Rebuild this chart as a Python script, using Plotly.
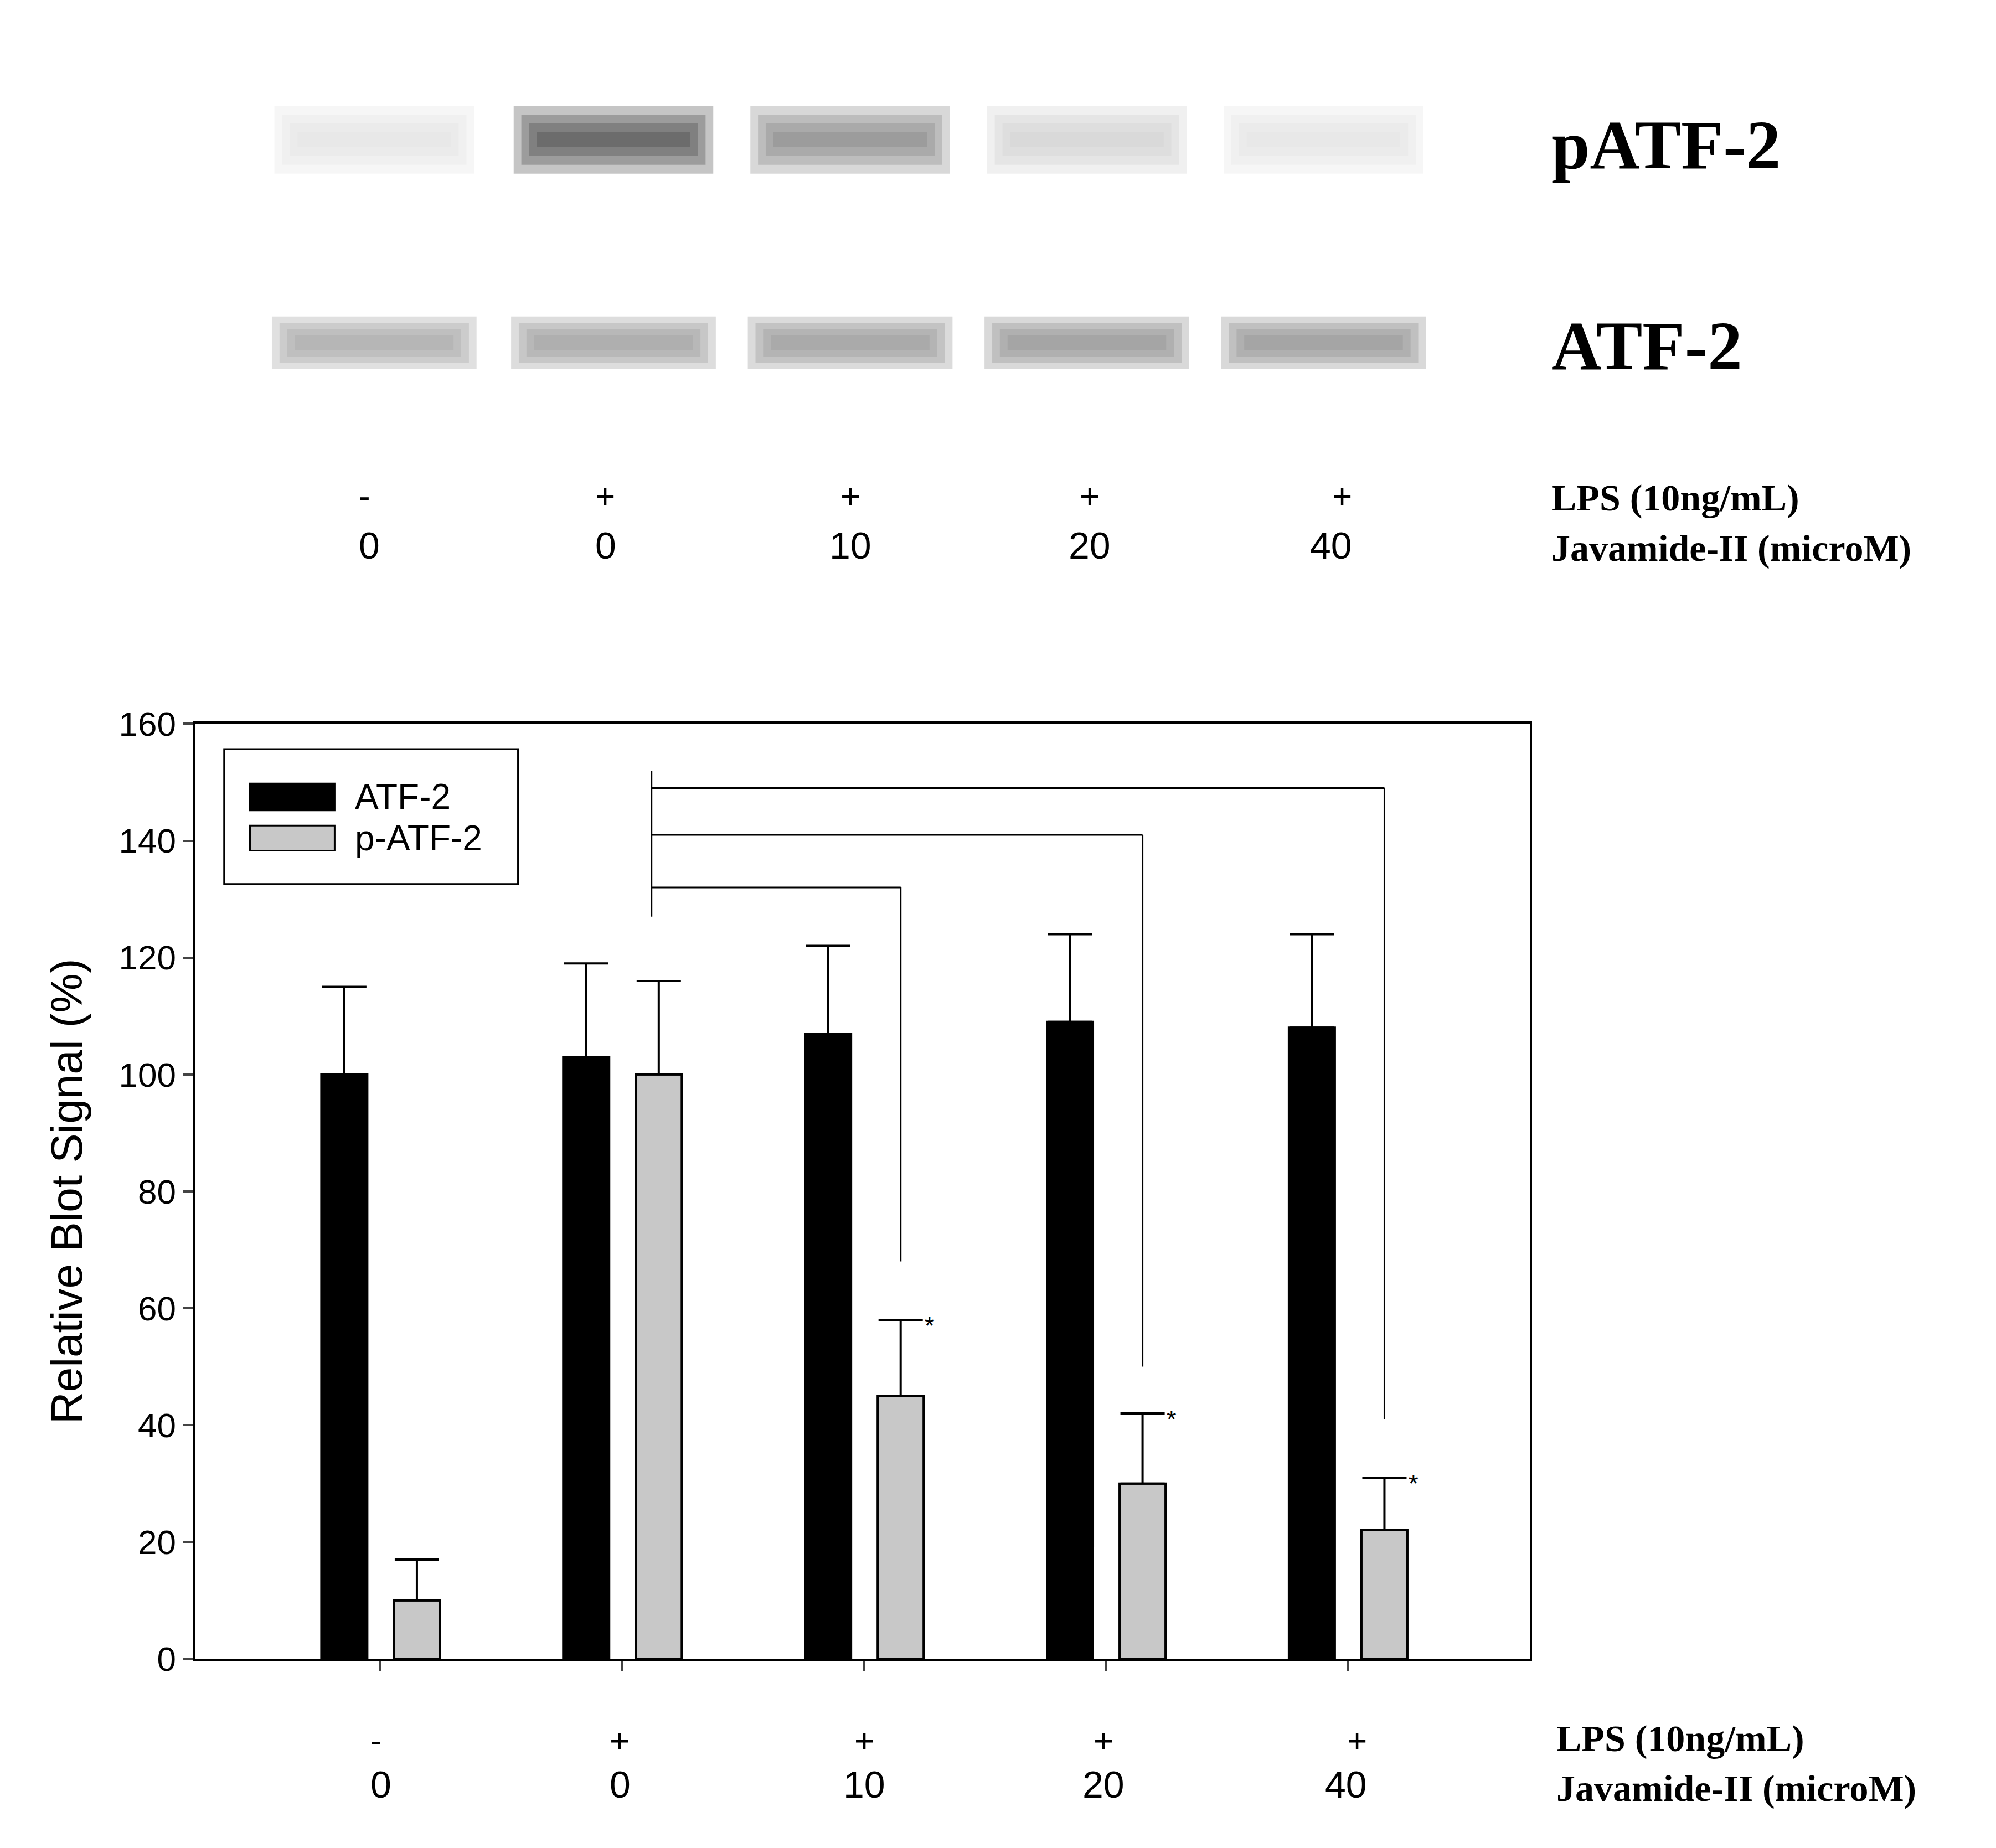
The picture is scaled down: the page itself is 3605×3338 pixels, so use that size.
import plotly.graph_objects as go

lps = ["-", "+", "+", "+", "+"]
doses = ["0", "0", "10", "20", "40"]
atf2 = [100, 103, 107, 109, 108]
atf2_err = [15, 16, 15, 15, 16]
patf2 = [10, 100, 45, 30, 22]
patf2_err = [7, 16, 13, 12, 9]
blot_p = [0.12, 0.75, 0.5, 0.2, 0.12]     # band darkness, pATF-2
blot_t = [0.35, 0.38, 0.4, 0.42, 0.42]    # band darkness, ATF-2
sig_levels = [132, 141, 149]
sig_drop = [68, 50, 41]

W, H = 3605, 3338
def X(p): return p / 1560
def Y(p): return 1 - p / 1444

pos = list(range(5))
fig = go.Figure()
fig.add_bar(x=[p - 0.15 for p in pos], y=atf2, width=0.19, marker=dict(color="black", line=dict(color="black", width=4)),
            error_y=dict(type="data", array=atf2_err, arrayminus=[0]*5, color="black", thickness=4, width=40), showlegend=False)
fig.add_bar(x=[p + 0.15 for p in pos], y=patf2, width=0.19, marker=dict(color="#c8c8c8", line=dict(color="black", width=4)),
            error_y=dict(type="data", array=patf2_err, arrayminus=[0]*5, color="black", thickness=4, width=40), showlegend=False)

shapes, ann = [], []
x0 = 1 + 0.12
shapes.append(dict(type="line", xref="x", yref="y", x0=x0, x1=x0, y0=127, y1=152, line=dict(color="black", width=3)))
for i, (lv, dr) in enumerate(zip(sig_levels, sig_drop)):
    xe = i + 2 + 0.15
    shapes.append(dict(type="line", xref="x", yref="y", x0=x0, x1=xe, y0=lv, y1=lv, line=dict(color="black", width=3)))
    shapes.append(dict(type="line", xref="x", yref="y", x0=xe, x1=xe, y0=lv, y1=dr, line=dict(color="black", width=3)))
    ann.append(dict(xref="x", yref="y", x=xe + 0.12, y=patf2[i+2] + patf2_err[i+2] - 1, text="*", showarrow=False,
                    font=dict(size=45, family="Liberation Sans", color="black")))
shapes.append(dict(type="rect", xref="x", yref="y", x0=-0.647, x1=0.568, y0=132.6, y1=155.7, line=dict(color="black", width=3), fillcolor="white"))
shapes.append(dict(type="rect", xref="x", yref="y", x0=-0.54, x1=-0.19, y0=145.2, y1=149.8, line=dict(color="black", width=3), fillcolor="black"))
shapes.append(dict(type="rect", xref="x", yref="y", x0=-0.54, x1=-0.19, y0=138.3, y1=142.6, line=dict(color="black", width=3), fillcolor="#c8c8c8"))
for t, yy in [("ATF-2", 147.5), ("p-ATF-2", 140.4)]:
    ann.append(dict(xref="x", yref="y", x=-0.11, y=yy, text=t, showarrow=False, xanchor="left",
                    font=dict(size=64, family="Liberation Sans", color="black")))

lanes = [289, 476, 661, 846, 1031]
for cx, dp, dt in zip(lanes, blot_p, blot_t):
    for k in range(4):
        g = int(255 - 255 * dp)
        shapes.append(dict(type="rect", xref="paper", yref="paper", layer="below",
                           x0=X(cx - 78 + k*6), x1=X(cx + 78 - k*6), y0=Y(120 - k*7), y1=Y(66 + k*7),
                           fillcolor=f"rgb({g},{g},{g})", opacity=0.3, line=dict(width=0)))
        g2 = int(255 - 255 * dt)
        shapes.append(dict(type="rect", xref="paper", yref="paper", layer="below",
                           x0=X(cx - 80 + k*6), x1=X(cx + 80 - k*6), y0=Y(276 - k*5), y1=Y(234 + k*5),
                           fillcolor=f"rgb({g2},{g2},{g2})", opacity=0.35, line=dict(width=0)))
serif = dict(family="Liberation Serif", color="black")
ann.append(dict(xref="paper", yref="paper", x=X(1208), y=Y(66), text="<b>pATF-2</b>", showarrow=False, xanchor="left", font=dict(size=125, **serif)))
ann.append(dict(xref="paper", yref="paper", x=X(1208), y=Y(226), text="<b>ATF-2</b>", showarrow=False, xanchor="left", font=dict(size=125, **serif)))
for ly, ny, lx in [(361, 401, 1208), (1386, 1426, 1212)]:
    ann.append(dict(xref="paper", yref="paper", x=X(lx), y=Y(ly), text="<b>LPS (10ng/mL)</b>", showarrow=False, xanchor="left", font=dict(size=68, **serif)))
    ann.append(dict(xref="paper", yref="paper", x=X(lx), y=Y(ny), text="<b>Javamide-II (microM)</b>", showarrow=False, xanchor="left", font=dict(size=68, **serif)))
top_x = [276, 461, 661, 848, 1054]
bot_x = [285, 472, 672, 859, 1066]
for i in range(5):
    for xs, ly, ny in [(top_x, 361, 399), (bot_x, 1386, 1423)]:
        ann.append(dict(xref="paper", yref="paper", x=X(xs[i]), y=Y(ly), text=lps[i], showarrow=False, font=dict(size=62, family="Liberation Sans", color="black")))
        ann.append(dict(xref="paper", yref="paper", x=X(xs[i]), y=Y(ny), text=doses[i], showarrow=False, font=dict(size=68, family="Liberation Sans", color="black")))

fig.update_layout(width=W, height=H, plot_bgcolor="white", paper_bgcolor="white", shapes=shapes, annotations=ann,
                  margin=dict(l=0, r=0, t=0, b=0), barmode="overlay",
                  xaxis=dict(domain=[X(149), X(1192)], range=[-0.767, 4.75], tickvals=pos, ticktext=[""]*5, ticks="outside",
                             ticklen=18, tickwidth=4, showline=True, linewidth=4, linecolor="black", mirror=True, showgrid=False, zeroline=False),
                  yaxis=dict(domain=[Y(1305), Y(559)], range=[0, 160], dtick=20, ticks="outside", ticklen=18, tickwidth=4,
                             showline=True, linewidth=4, linecolor="black", mirror=True, showgrid=False, zeroline=False,
                             tickfont=dict(size=62, family="Liberation Sans", color="black"),
                             title=dict(text="Relative Blot Signal (%)", font=dict(size=80, family="Liberation Sans", color="black"), standoff=40)))
fig.write_html("out.html")
